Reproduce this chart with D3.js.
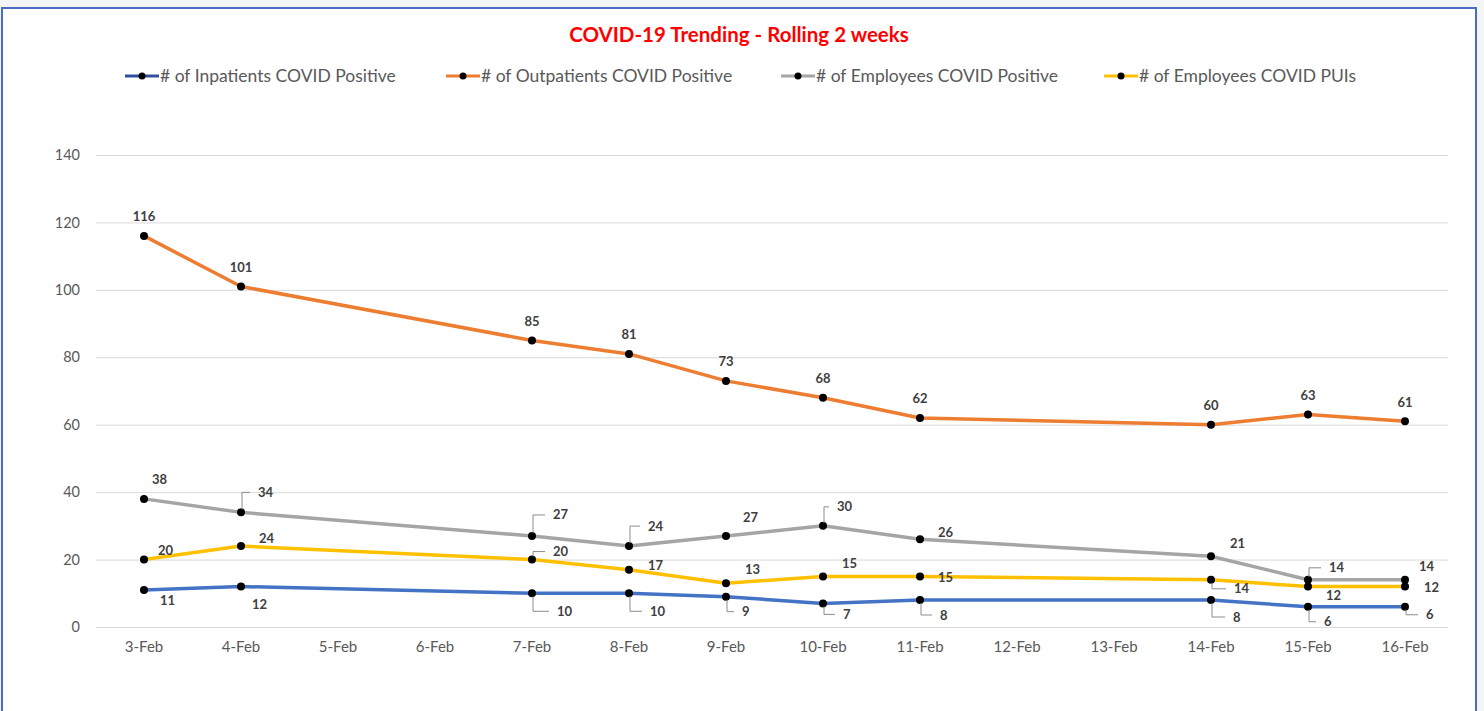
<!DOCTYPE html>
<html>
<head>
<meta charset="utf-8">
<script src="https://cdn.jsdelivr.net/npm/d3@7/dist/d3.min.js"></script>
<style>
  html, body { margin: 0; padding: 0; background: #ffffff; }
  svg { display: block; font-family: Lato, "Open Sans", sans-serif; }
</style>
</head>
<body>
<svg id="chart" width="1484" height="711"></svg>
<script>
// Axis categories (every day in the window, some without reports)
const days = ["3-Feb","4-Feb","5-Feb","6-Feb","7-Feb","8-Feb","9-Feb","10-Feb","11-Feb","12-Feb","13-Feb","14-Feb","15-Feb","16-Feb"];
// Days that have reported counts
const reportDays = ["3-Feb","4-Feb","7-Feb","8-Feb","9-Feb","10-Feb","11-Feb","14-Feb","15-Feb","16-Feb"];

const inpatients  = [11, 12, 10, 10, 9, 7, 8, 8, 6, 6];
const outpatients = [116, 101, 85, 81, 73, 68, 62, 60, 63, 61];
const employeesPositive = [38, 34, 27, 24, 27, 30, 26, 21, 14, 14];
const employeesPUIs = [20, 24, 20, 17, 13, 15, 15, 14, 12, 12];

const yTicks = [0, 20, 40, 60, 80, 100, 120, 140];

const seriesNames = [
  "# of Inpatients COVID Positive",
  "# of Outpatients COVID Positive",
  "# of Employees COVID Positive",
  "# of Employees COVID PUIs"
];

// Label placement (dx, dy from the point, and whether a leader line is drawn)
const labelPlacement = [
  [[16,11,0],[11,18,0],[25,18,1],[21,18,1],[16,15,1],[20,11,1],[20,15,1],[22,17,1],[16,15,1],[21,8,1]],
  [[0,-19,0],[0,-19,0],[0,-19,0],[0,-19,0],[0,-19,0],[0,-19,0],[0,-19,0],[0,-19,0],[0,-19,0],[0,-19,0]],
  [[8,-19,0],[17,-20,1],[21,-21,1],[19,-20,1],[17,-18,0],[14,-19,1],[18,-7,0],[19,-13,0],[21,-12,1],[14,-13,0]],
  [[14,-9,0],[18,-8,0],[21,-8,1],[19,-4,0],[19,-14,0],[19,-13,0],[18,1,0],[23,9,1],[18,9,0],[19,1,0]]
];

const colors = ["#4472C4", "#ED7D31", "#A5A5A5", "#FFC000"];
const legendLineColors = ["#2F4FA0", "#ED7D31", "#A5A5A5", "#FFC000"];
const seriesValues = [inpatients, outpatients, employeesPositive, employeesPUIs];

const svg = d3.select("#chart");

// page background and chart frame
svg.append("rect").attr("x", 0).attr("y", 0).attr("width", 1484).attr("height", 711).attr("fill", "#f4f5f7");
svg.append("rect").attr("x", 2).attr("y", 8).attr("width", 1474).attr("height", 720)
  .attr("fill", "#ffffff").attr("stroke", "#4a6cc6").attr("stroke-width", 2);

const plot = { left: 96, right: 1448, top: 155, bottom: 627 };

const x = d3.scaleBand().domain(days).range([95.5, 1453.5]).paddingInner(0).paddingOuter(0);
const y = d3.scaleLinear().domain([0, 140]).range([plot.bottom, plot.top]);
const cx = d => x(d) + x.bandwidth() / 2;

// gridlines
const yAxis = d3.axisLeft(y).tickValues(yTicks).tickSize(-(plot.right - plot.left)).tickPadding(16);
const gy = svg.append("g").attr("transform", `translate(${plot.left},0)`).call(yAxis);
gy.select(".domain").remove();
gy.selectAll(".tick line").attr("stroke", "#d9d9d9").attr("stroke-width", 1);
gy.selectAll(".tick text").attr("fill", "#595959").attr("font-size", 14.5).attr("font-family", "Lato, sans-serif");

// x axis labels
const xAxis = d3.axisBottom(x).tickSize(0).tickPadding(14);
const gx = svg.append("g").attr("transform", `translate(0,${plot.bottom})`).call(xAxis);
gx.select(".domain").remove();
gx.selectAll(".tick text").attr("fill", "#595959").attr("font-size", 15).attr("font-family", "Lato, sans-serif");

// title
svg.append("text").attr("x", 739).attr("y", 42).attr("text-anchor", "middle")
  .attr("fill", "#ff0000").attr("font-weight", "bold").attr("font-size", 20.5)
  .text("COVID-19 Trending - Rolling 2 weeks");

// legend
const legendX = [125, 446, 781, 1104];
const legend = svg.append("g");
seriesNames.forEach((name, i) => {
  const g = legend.append("g").attr("transform", `translate(${legendX[i]},76)`);
  g.append("line").attr("x1", 0).attr("x2", 34).attr("y1", 0).attr("y2", 0)
    .attr("stroke", legendLineColors[i]).attr("stroke-width", 3);
  g.append("circle").attr("cx", 17).attr("cy", 0).attr("r", 3.5).attr("fill", "#000");
  g.append("text").attr("x", 35).attr("y", 6).attr("fill", "#595959").attr("font-size", 17.5)
    .text(name);
});

// series lines, markers and value labels
const line = d3.line().x(d => cx(d.day)).y(d => y(d.value));
const drawOrder = [1, 2, 3, 0];
drawOrder.forEach(i => {
  const pts = reportDays.map((day, k) => ({ day, value: seriesValues[i][k], k }));
  svg.append("path").datum(pts).attr("d", line).attr("fill", "none")
    .attr("stroke", colors[i]).attr("stroke-width", 3.5).attr("stroke-linejoin", "round");
});
drawOrder.forEach(i => {
  const pts = reportDays.map((day, k) => ({ day, value: seriesValues[i][k], k }));
  const g = svg.append("g");
  g.selectAll("circle").data(pts).join("circle")
    .attr("cx", d => cx(d.day)).attr("cy", d => y(d.value)).attr("r", 4).attr("fill", "#000");
  pts.forEach(d => {
    const [dx, dy, leader] = labelPlacement[i][d.k];
    const px = cx(d.day), py = y(d.value);
    if (leader) {
      const lx = px + dx - 8, ly = py + dy;
      g.append("path")
        .attr("d", `M${px + 1},${py + Math.sign(dy) * 3} L${px + 1},${ly} L${lx},${ly}`)
        .attr("fill", "none").attr("stroke", "#8c8c8c").attr("stroke-width", 1);
    }
    g.append("text").attr("x", px + dx).attr("y", py + dy + 4.5)
      .attr("text-anchor", dx === 0 ? "middle" : "start")
      .attr("fill", "#404040").attr("font-size", 13).attr("font-weight", "bold")
      .text(d.value);
  });
});
</script>
</body>
</html>
